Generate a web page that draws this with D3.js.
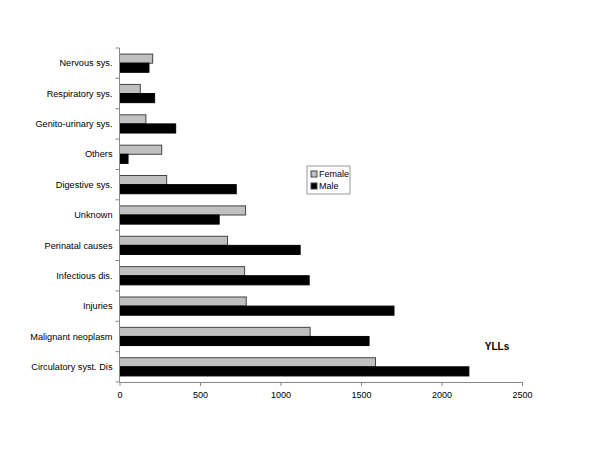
<!DOCTYPE html>
<html>
<head>
<meta charset="utf-8">
<script src="https://cdn.jsdelivr.net/npm/d3@7"></script>
<style>
  body { margin: 0; background: #fff; }
  svg { display: block; font-family: "Liberation Sans", Arial, sans-serif; }
</style>
</head>
<body>
<svg id="chart" width="600" height="450"></svg>
<script>
// categories top to bottom
const categories = [
  'Nervous sys.', 'Respiratory sys.', 'Genito-urinary sys.', 'Others',
  'Digestive sys.', 'Unknown', 'Perinatal causes', 'Infectious dis.',
  'Injuries', 'Malignant neoplasm', 'Circulatory syst. Dis'
];
const female = [206, 129, 164, 262, 293, 783, 671, 777, 787, 1184, 1590];
const male = [183, 218, 349, 53, 725, 619, 1122, 1178, 1705, 1550, 2170];
const xTicks = [0, 500, 1000, 1500, 2000, 2500];
const seriesNames = ['Female', 'Male'];

const colors = { Female: '#c0c0c0', Male: '#000000' };

const svg = d3.select('#chart');
const margin = { top: 48, left: 119.5, right: 78, bottom: 68 };
const width = 600, height = 450;
const innerW = width - margin.left - margin.right;
const innerH = height - margin.top - margin.bottom;

const g = svg.append('g').attr('transform', `translate(${margin.left},${margin.top})`);

const x = d3.scaleLinear().domain([0, 2500]).range([0, innerW]);
const y = d3.scaleBand().domain(categories).range([0, innerH]).paddingInner(0.4).paddingOuter(0.2);
const sub = d3.scaleBand().domain(seriesNames).range([0, y.bandwidth()]);

// bars
const rows = categories.map((c, i) => ({ cat: c, Female: female[i], Male: male[i] }));
const groups = g.selectAll('.row').data(rows).enter().append('g')
  .attr('transform', d => `translate(0,${y(d.cat)})`);

groups.selectAll('rect')
  .data(d => seriesNames.map(s => ({ s, v: d[s] })))
  .enter().append('rect')
  .attr('x', 0)
  .attr('y', d => sub(d.s))
  .attr('width', d => x(d.v))
  .attr('height', sub.bandwidth())
  .attr('fill', d => colors[d.s])
  .attr('stroke', d => d.s === 'Female' ? '#444' : '#000')
  .attr('stroke-width', 1);

// x axis
const xAxis = g.append('g')
  .attr('transform', `translate(0,${innerH})`)
  .call(d3.axisBottom(x).tickValues(xTicks).tickFormat(d3.format('d'))
    .tickSize(4).tickSizeOuter(0).tickPadding(6));
xAxis.select('.domain').attr('stroke', '#888');
xAxis.selectAll('.tick line').attr('stroke', '#888');
xAxis.selectAll('text').attr('fill', '#000').style('font-size', '9px')
  .style('font-family', '"Liberation Sans", Arial, sans-serif');

// y axis: ticks sit between categories
g.append('line')
  .attr('x1', 0).attr('x2', 0).attr('y1', 0).attr('y2', innerH)
  .attr('stroke', '#888');
const step = innerH / categories.length;
d3.range(categories.length + 1).forEach(i => {
  g.append('line')
    .attr('x1', -4).attr('x2', 0)
    .attr('y1', i * step).attr('y2', i * step)
    .attr('stroke', '#888');
});
g.selectAll('.ylab').data(categories).enter().append('text')
  .attr('x', -7)
  .attr('y', d => y(d) + y.bandwidth() / 2)
  .attr('dy', '0.35em')
  .attr('text-anchor', 'end')
  .style('font-size', '9.2px')
  .text(d => d);

// legend
const lg = svg.append('g').attr('transform', 'translate(307,166)');
lg.append('rect').attr('width', 43).attr('height', 28)
  .attr('fill', '#fff').attr('stroke', '#999');
seriesNames.forEach((s, i) => {
  lg.append('rect').attr('x', 4).attr('y', 5 + i * 12).attr('width', 6).attr('height', 6)
    .attr('fill', colors[s]).attr('stroke', '#444');
  lg.append('text').attr('x', 12).attr('y', 8 + i * 12).attr('dy', '0.35em')
    .style('font-size', '9px').text(s);
});

// unit label
svg.append('text').attr('x', 497).attr('y', 350).attr('text-anchor', 'middle')
  .style('font-size', '10px').style('font-weight', 'bold').text('YLLs');
</script>
</body>
</html>
